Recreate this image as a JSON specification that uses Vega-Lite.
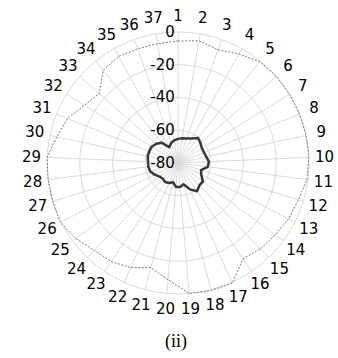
{
  "$schema": "https://vega.github.io/schema/vega-lite/v6.json",
  "width": 338,
  "height": 358,
  "padding": 0,
  "autosize": {"type": "none"},
  "background": "white",
  "config": {"view": {"stroke": null}},
  "datasets": {
    "pattern": [
      {"label": "1", "ang": 0, "inner": -65.3, "outer": -5.5},
      {"label": "2", "ang": 9.73, "inner": -64.7, "outer": -4.3},
      {"label": "3", "ang": 19.46, "inner": -64.1, "outer": -6.7},
      {"label": "4", "ang": 29.19, "inner": -62.9, "outer": -3.7},
      {"label": "5", "ang": 38.92, "inner": -60.5, "outer": -0.6},
      {"label": "6", "ang": 48.65, "inner": -61.7, "outer": 0},
      {"label": "7", "ang": 58.38, "inner": -62.9, "outer": 0},
      {"label": "8", "ang": 68.11, "inner": -62.9, "outer": 0},
      {"label": "9", "ang": 77.84, "inner": -62.3, "outer": 0},
      {"label": "10", "ang": 87.57, "inner": -61.1, "outer": 0},
      {"label": "11", "ang": 97.3, "inner": -61.7, "outer": -0.6},
      {"label": "12", "ang": 107.03, "inner": -65.3, "outer": -3.1},
      {"label": "13", "ang": 116.76, "inner": -64.1, "outer": -4.3},
      {"label": "14", "ang": 126.49, "inner": -61.1, "outer": -6.1},
      {"label": "15", "ang": 136.22, "inner": -61.1, "outer": -7.3},
      {"label": "16", "ang": 145.95, "inner": -59.2, "outer": -9.2},
      {"label": "17", "ang": 155.68, "inner": -62.3, "outer": 0.5},
      {"label": "18", "ang": 165.41, "inner": -66.6, "outer": 0.5},
      {"label": "19", "ang": 175.14, "inner": -65.3, "outer": 0},
      {"label": "20", "ang": 184.86, "inner": -65.3, "outer": -8.5},
      {"label": "21", "ang": 194.59, "inner": -67.8, "outer": -14.0},
      {"label": "22", "ang": 204.32, "inner": -66.6, "outer": -9.8},
      {"label": "23", "ang": 214.05, "inner": -66.0, "outer": -7.3},
      {"label": "24", "ang": 223.78, "inner": -66.6, "outer": -6.1},
      {"label": "25", "ang": 233.51, "inner": -66.0, "outer": -2.4},
      {"label": "26", "ang": 243.24, "inner": -64.1, "outer": 0.5},
      {"label": "27", "ang": 252.97, "inner": -62.3, "outer": 0},
      {"label": "28", "ang": 262.7, "inner": -61.7, "outer": 0},
      {"label": "29", "ang": 272.43, "inner": -61.7, "outer": 0},
      {"label": "30", "ang": 282.16, "inner": -61.1, "outer": -4.3},
      {"label": "31", "ang": 291.89, "inner": -61.1, "outer": -7.3},
      {"label": "32", "ang": 301.62, "inner": -61.1, "outer": -12.8},
      {"label": "33", "ang": 311.35, "inner": -62.3, "outer": -15.9},
      {"label": "34", "ang": 321.08, "inner": -64.1, "outer": -7.3},
      {"label": "35", "ang": 330.81, "inner": -69.0, "outer": -5.5},
      {"label": "36", "ang": 340.54, "inner": -67.2, "outer": -6.1},
      {"label": "37", "ang": 350.27, "inner": -66.0, "outer": -6.1},
      {"label": "", "ang": 360, "inner": -65.3, "outer": -5.5}
    ],
    "rings": [
      {"level": 0, "text": "0"},
      {"level": -20, "text": "-20"},
      {"level": -40, "text": "-40"},
      {"level": -60, "text": "-60"},
      {"level": -80, "text": "-80"}
    ],
    "caption": [{"text": "(ii)"}]
  },
  "layer": [
    {
      "data": {"name": "rings"},
      "transform": [
        {"filter": "datum.level > -80"},
        {"calculate": "datum.level + 80", "as": "r"},
        {"calculate": "0", "as": "c"}
      ],
      "mark": {"type": "point", "shape": "circle", "filled": false, "stroke": "#d9d9d9", "strokeWidth": 1, "opacity": 1},
      "encoding": {
        "x": {"field": "c", "type": "quantitative", "scale": {"domain": [-108.7, 97.7], "nice": false, "zero": false}, "axis": null},
        "y": {"field": "c", "type": "quantitative", "scale": {"domain": [-119.1, 99.5], "nice": false, "zero": false}, "axis": null},
        "size": {"field": "r", "type": "quantitative", "scale": {"type": "pow", "exponent": 2, "domain": [0, 80], "range": [0, 68644], "zero": true}, "legend": null}
      }
    },
    {
      "data": {"name": "pattern"},
      "transform": [
        {"filter": "datum.ang < 360"},
        {"calculate": "80 * sin(datum.ang * PI / 180)", "as": "sx"},
        {"calculate": "80 * cos(datum.ang * PI / 180)", "as": "sy"},
        {"calculate": "0", "as": "c"}
      ],
      "mark": {"type": "rule", "stroke": "#d9d9d9", "strokeWidth": 1},
      "encoding": {
        "x": {"field": "c", "type": "quantitative", "scale": {"domain": [-108.7, 97.7], "nice": false, "zero": false}, "axis": null},
        "y": {"field": "c", "type": "quantitative", "scale": {"domain": [-119.1, 99.5], "nice": false, "zero": false}, "axis": null},
        "x2": {"field": "sx"},
        "y2": {"field": "sy"}
      }
    },
    {
      "data": {"name": "pattern"},
      "transform": [
        {"calculate": "(datum.outer + 80) * sin(datum.ang * PI / 180)", "as": "ox"},
        {"calculate": "(datum.outer + 80) * cos(datum.ang * PI / 180)", "as": "oy"}
      ],
      "mark": {"type": "line", "stroke": "#7a7a7a", "strokeWidth": 1, "strokeDash": [2, 1.5]},
      "encoding": {
        "x": {"field": "ox", "type": "quantitative", "scale": {"domain": [-108.7, 97.7], "nice": false, "zero": false}, "axis": null},
        "y": {"field": "oy", "type": "quantitative", "scale": {"domain": [-119.1, 99.5], "nice": false, "zero": false}, "axis": null},
        "order": {"field": "ang", "type": "quantitative"}
      }
    },
    {
      "data": {"name": "pattern"},
      "transform": [
        {"calculate": "(datum.inner + 80) * sin(datum.ang * PI / 180)", "as": "ix"},
        {"calculate": "(datum.inner + 80) * cos(datum.ang * PI / 180)", "as": "iy"}
      ],
      "mark": {"type": "line", "stroke": "#383838", "strokeWidth": 2.5, "strokeJoin": "round"},
      "encoding": {
        "x": {"field": "ix", "type": "quantitative", "scale": {"domain": [-108.7, 97.7], "nice": false, "zero": false}, "axis": null},
        "y": {"field": "iy", "type": "quantitative", "scale": {"domain": [-119.1, 99.5], "nice": false, "zero": false}, "axis": null},
        "order": {"field": "ang", "type": "quantitative"}
      }
    },
    {
      "data": {"name": "pattern"},
      "transform": [
        {"filter": "datum.ang < 360"},
        {"calculate": "89.5 * sin(datum.ang * PI / 180)", "as": "lx"},
        {"calculate": "89.5 * cos(datum.ang * PI / 180)", "as": "ly"}
      ],
      "mark": {"type": "text", "font": "DejaVu Sans", "fontSize": 15, "color": "#000000", "align": "center", "baseline": "middle"},
      "encoding": {
        "x": {"field": "lx", "type": "quantitative", "scale": {"domain": [-108.7, 97.7], "nice": false, "zero": false}, "axis": null},
        "y": {"field": "ly", "type": "quantitative", "scale": {"domain": [-119.1, 99.5], "nice": false, "zero": false}, "axis": null},
        "text": {"field": "label"}
      }
    },
    {
      "data": {"name": "rings"},
      "transform": [
        {"calculate": "datum.level + 80", "as": "r"},
        {"calculate": "-2", "as": "tx"}
      ],
      "mark": {"type": "text", "font": "DejaVu Sans", "fontSize": 15, "color": "#000000", "align": "right", "baseline": "middle"},
      "encoding": {
        "x": {"field": "tx", "type": "quantitative", "scale": {"domain": [-108.7, 97.7], "nice": false, "zero": false}, "axis": null},
        "y": {"field": "r", "type": "quantitative", "scale": {"domain": [-119.1, 99.5], "nice": false, "zero": false}, "axis": null},
        "text": {"field": "text"}
      }
    },
    {
      "data": {"name": "caption"},
      "transform": [
        {"calculate": "-1.2", "as": "tx"},
        {"calculate": "-109.3", "as": "ty"}
      ],
      "mark": {"type": "text", "font": "Liberation Serif", "fontSize": 18, "color": "#000000", "align": "center", "baseline": "middle"},
      "encoding": {
        "x": {"field": "tx", "type": "quantitative", "scale": {"domain": [-108.7, 97.7], "nice": false, "zero": false}, "axis": null},
        "y": {"field": "ty", "type": "quantitative", "scale": {"domain": [-119.1, 99.5], "nice": false, "zero": false}, "axis": null},
        "text": {"field": "text"}
      }
    }
  ]
}
